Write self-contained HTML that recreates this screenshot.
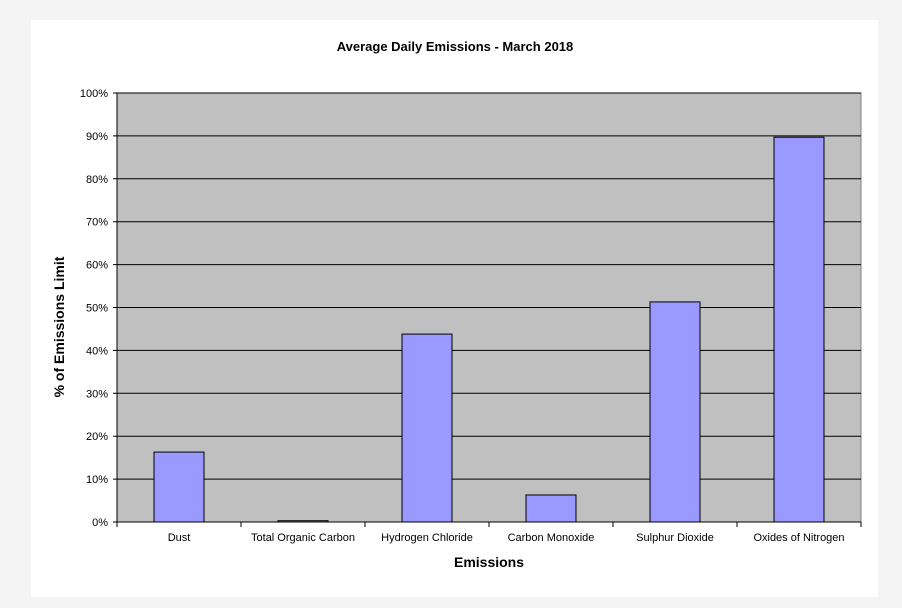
<!DOCTYPE html>
<html><head><meta charset="utf-8"><style>
body{margin:0;background:#f4f4f4;width:902px;height:608px;overflow:hidden;font-family:"Liberation Sans",Arial,sans-serif}
#panel{position:absolute;left:31px;top:20px;width:847px;height:577px;background:#fff}
svg{position:absolute;left:0;top:0}
</style></head><body>
<div id="panel"></div>
<svg id="chart" width="902" height="608"></svg>
<script>
const categories=["Dust","Total Organic Carbon","Hydrogen Chloride","Carbon Monoxide","Sulphur Dioxide","Oxides of Nitrogen"];
const values=[16.3,0.3,43.8,6.3,51.3,89.7];
const yTicks=[0,10,20,30,40,50,60,70,80,90,100];
const L=117,R=861,T=93,B=522;
const NS="http://www.w3.org/2000/svg";
const svg=document.getElementById('chart');
const y=v=>B-(v/100)*(B-T);
const bw=(R-L)/categories.length;
const x=i=>L+i*bw;
function mk(t,a,txt){const e=document.createElementNS(NS,t);for(const k in a)e.setAttribute(k,a[k]);if(txt!=null)e.textContent=txt;svg.appendChild(e);return e;}
let e=mk('rect',{x:L,y:T,width:R-L,height:B-T,fill:'#c0c0c0',stroke:'#808080'});


yTicks.forEach(v=>{
 let g=mk('line',{x1:L-4,x2:R,y1:y(v),y2:y(v),stroke:'#000','stroke-width':1});
 
 
 let t=mk('text',{x:L-9,y:y(v)+4,'text-anchor':'end','font-size':11,fill:'#000'},v+'%');
 
 
});
e=mk('line',{x1:L,x2:L,y1:T,y2:B,stroke:'#000'});


categories.forEach((c,i)=>{
 let b=mk('rect',{x:x(i)+37,y:y(values[i]),width:50,height:B-y(values[i]),fill:'#9999ff',stroke:'#000','stroke-width':1});
 
 
 let t=mk('text',{x:x(i)+bw/2,y:541,'text-anchor':'middle','font-size':11,fill:'#000'},c);
 
 
});
for(let i=0;i<=categories.length;i++){
 let tk=mk('line',{x1:x(i),x2:x(i),y1:B,y2:B+5,stroke:'#000'});
 
 
}
e=mk('line',{x1:L,x2:R,y1:B,y2:B,stroke:'#000'});


e=mk('text',{x:455,y:51,'text-anchor':'middle','font-size':13,'font-weight':'bold'},'Average Daily Emissions - March 2018');


e=mk('text',{x:489,y:567,'text-anchor':'middle','font-size':14,'font-weight':'bold'},'Emissions');


e=mk('text',{x:0,y:0,'text-anchor':'middle','font-size':14,'font-weight':'bold',transform:'translate(64,327) rotate(-90)'},'% of Emissions Limit');


</script>
</body></html>
